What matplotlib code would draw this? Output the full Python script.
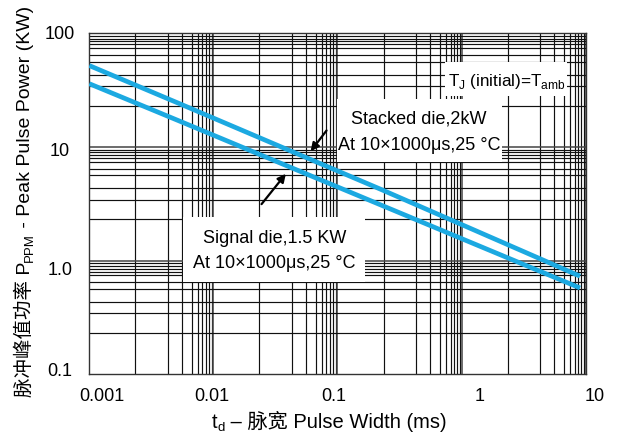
import numpy as np
import matplotlib
matplotlib.use("Agg")
import matplotlib.pyplot as plt
from matplotlib.patches import Rectangle
from matplotlib.ticker import NullLocator
from matplotlib.transforms import IdentityTransform

plt.rcParams['font.family'] = ['Liberation Sans', 'Noto Sans CJK SC', 'DejaVu Sans']
plt.rcParams['mathtext.fontset'] = 'custom'
plt.rcParams['mathtext.rm'] = 'Liberation Sans'

# curves (pulse width in ms, power in kW)
stacked_t = [0.001, 0.0054, 0.22, 9.0]
stacked_p = [52.0, 23.9, 4.27, 0.73]
signal_t = [0.001, 0.0054, 0.22, 9.0]
signal_p = [36.0, 16.8, 3.11, 0.575]

# tick labels and where they sit in the picture (they are not on the decades)
x_labels = ['0.001', '0.01', '0.1', '1', '10']
x_label_pos = [0.00126, 0.00976, 0.093, 1.41, 11.9]
y_labels = ['100', '10', '1.0', '0.1']
y_label_pos = [100, 9.36, 0.834, 0.108]

# the printed grid is not a true log grid: line positions as fractions of a decade
x_grid_frac = [0.371, 0.634, 0.744, 0.824, 0.873, 0.911, 0.941, 0.966, 0.986]
y_grid_frac = [0.364, 0.537, 0.636, 0.749, 0.810, 0.871, 0.903, 0.930, 0.954, 0.975]

FS = 13
BLUE = '#1CA9E1'

fig = plt.figure(figsize=(6.18, 4.39), dpi=100)
ax = fig.add_axes([0.1445, 0.1451, 0.8032, 0.7768])
ax.set_xscale('log')
ax.set_yscale('log')
ax.set_xlim(1e-3, 10)
ax.set_ylim(0.1, 100)
for a in (ax.xaxis, ax.yaxis):
    a.set_major_locator(NullLocator())
    a.set_minor_locator(NullLocator())
for s in ax.spines.values():
    s.set_color('#333333')
    s.set_linewidth(1.0)

for k in range(-3, 1):
    for f in x_grid_frac:
        ax.axvline(10 ** (k + f), color='#111111', lw=0.85, zorder=1)
    ax.axvline(10.0 ** (k + 1), color='#444444', lw=1.1, zorder=1)
for k in range(-1, 2):
    for f in y_grid_frac:
        ax.axhline(10 ** (k + f), color='#111111', lw=0.85, zorder=1)
    ax.axhline(10.0 ** (k + 1), color='#444444', lw=1.1, zorder=1)

ax.plot(stacked_t, stacked_p, color=BLUE, lw=3.4, zorder=3, solid_capstyle='butt')
ax.plot(signal_t, signal_p, color=BLUE, lw=3.4, zorder=3, solid_capstyle='butt')

for s, v in zip(x_labels, x_label_pos):
    ax.text(v, -0.062, s, transform=ax.get_xaxis_transform(), ha='center', va='center',
            fontsize=FS, clip_on=False)
for s, v in zip(y_labels, y_label_pos):
    ax.text(-0.059, v, s, transform=ax.get_yaxis_transform(), ha='center', va='center',
            fontsize=FS, clip_on=False)

# white boxes behind the notes
for x0, y0, x1, y1 in [(0.7166, 0.8147, 0.9623, 0.9158),
                       (0.4984, 0.6217, 0.8308, 0.8073),
                       (0.1894, 0.2698, 0.5554, 0.4604)]:
    ax.add_patch(Rectangle((x0, y0), x1 - x0, y1 - y0, transform=ax.transAxes,
                           facecolor='white', edgecolor='none', zorder=4))

ax.text(0.841, 0.848, r'T$_\mathregular{J}$ (initial)=T$_\mathregular{amb}$', transform=ax.transAxes,
        ha='center', va='baseline', fontsize=12.3, zorder=5)
ax.text(0.6646, 0.737, 'Stacked die,2kW', transform=ax.transAxes, ha='center', va='baseline',
        fontsize=FS, zorder=5)
ax.text(0.6646, 0.6607, 'At 10×1000μs,25 °C', transform=ax.transAxes, ha='center', va='baseline',
        fontsize=FS, zorder=5)
ax.text(0.3725, 0.3889, 'Signal die,1.5 KW', transform=ax.transAxes, ha='center', va='baseline',
        fontsize=FS, zorder=5)
ax.text(0.3725, 0.3138, 'At 10×1000μs,25 °C', transform=ax.transAxes, ha='center', va='baseline',
        fontsize=FS, zorder=5)

arrow = dict(arrowstyle='-|>', color='black', lw=1.6, mutation_scale=12, shrinkA=0, shrinkB=0)
ax.annotate('', xy=(0.446, 0.654), xytext=(0.478, 0.715), xycoords='axes fraction',
            arrowprops=arrow, zorder=5)
ax.annotate('', xy=(0.396, 0.588), xytext=(0.347, 0.499), xycoords='axes fraction',
            arrowprops=arrow, zorder=5)


def chain_text(center, base, parts, vertical=False):
    # lay pieces one after another in pixels, so CJK text and subscripts can mix;
    # the whole run is centred on `center`
    r = fig.canvas.get_renderer()
    items = []
    for s, size, shift in parts:
        if vertical:
            t = fig.text(base + shift, 0, s, fontsize=size, rotation=90, rotation_mode='anchor',
                         ha='left', va='baseline', transform=IdentityTransform())
            items.append((t, t.get_window_extent(r).height))
        else:
            t = fig.text(0, base - shift, s, fontsize=size, ha='left', va='baseline',
                         transform=IdentityTransform())
            items.append((t, t.get_window_extent(r).width))
    pos = center - sum(w for _, w in items) / 2
    for t, w in items:
        x, y = t.get_position()
        t.set_position((x, pos) if vertical else (pos, y))
        pos += w


chain_text(439 - 201.5, 29.5, [('脉冲峰值功率 P', 14, 0), ('PPM', 9.5, 3.5),
                               (' - Peak Pulse Power (KW)', 14, 0)], vertical=True)
chain_text(329, 11, [('t', 14.5, 0), ('d', 9.5, 3.5), (' – 脉宽 Pulse Width (ms)', 14.5, 0)])

fig.savefig('out.png', dpi=100)
